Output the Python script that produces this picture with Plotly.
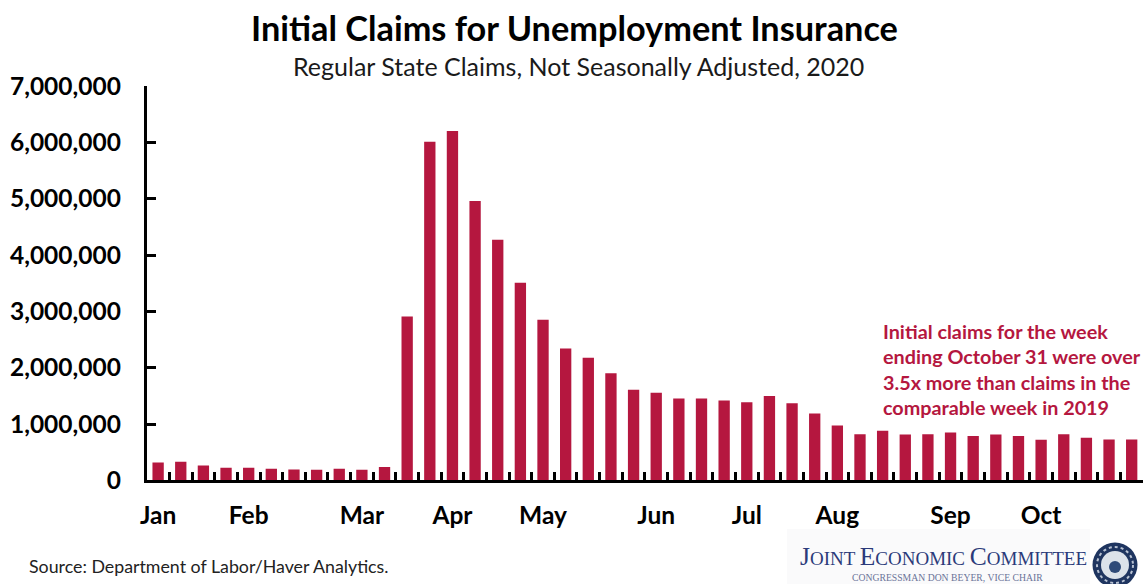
import pandas as pd
import plotly.graph_objects as go

TITLE = "Initial Claims for Unemployment Insurance"
SUBTITLE = "Regular State Claims, Not Seasonally Adjusted, 2020"
SOURCE = "Source: Department of Labor/Haver Analytics."
NOTE_LINES = [
    "Initial claims for the week",
    "ending October 31 were over",
    "3.5x more than claims in the",
    "comparable week in 2019",
]

# Weeks ending on a Saturday, first one on 4 January 2020
week_ending = pd.date_range("2020-01-04", periods=44, freq="7D")

# Regular state initial claims per week
claims = [
    319000, 331000, 266000, 225000, 225000, 207000, 195000, 189000, 207000, 189000, 236000,
    2910000, 6010000, 6200000, 4960000, 4270000, 3510000, 2850000, 2340000, 2175000, 1900000,
    1610000, 1555000, 1454000, 1454000, 1418000, 1389000, 1500000, 1370000, 1188000, 975000,
    820000, 880000, 815000, 820000, 850000, 786000, 815000, 790000, 720000, 820000, 756000,
    727000, 727000,
]

y_ticks = [0, 1000000, 2000000, 3000000, 4000000, 5000000, 6000000, 7000000]

W, H = 1143, 584
RED = "#B5173F"
NAVY = "#2B3A7A"


def px_x(x):
    return x / W


def px_y(y):
    return 1 - y / H


# One label per month, placed on the first week ending in that month
categories = [d.strftime("%Y-%m-%d") for d in week_ending]
labels = []
seen = set()
for d in week_ending:
    if d.month in seen:
        labels.append("")
    else:
        seen.add(d.month)
        labels.append(d.strftime("%b"))

fig = go.Figure(
    go.Bar(x=categories, y=claims, marker=dict(color=RED, line=dict(width=0)), width=0.5)
)

fig.update_layout(
    width=W,
    height=H,
    margin=dict(l=0, r=0, t=0, b=0, autoexpand=False),
    paper_bgcolor="white",
    plot_bgcolor="white",
    showlegend=False,
    font=dict(family="Lato", color="black"),
    xaxis=dict(
        type="category",
        domain=[px_x(146.8), 1],
        tickmode="array",
        tickvals=categories,
        ticktext=labels,
        tickson="boundaries",
        ticks="inside",
        ticklen=8,
        tickwidth=3,
        tickcolor="black",
        tickangle=0,
        tickfont=dict(family="Lato", size=24.5, weight=700),
        ticklabelstandoff=11,
        showline=True,
        linecolor="black",
        linewidth=3,
        showgrid=False,
        zeroline=False,
    ),
    yaxis=dict(
        domain=[px_y(480.4), px_y(86)],
        range=[0, 7000000],
        tickmode="array",
        tickvals=y_ticks,
        ticktext=[f"{v:,}" for v in y_ticks],
        ticks="inside",
        ticklen=9,
        tickwidth=3,
        tickcolor="black",
        tickfont=dict(family="Lato", size=24.5, weight=700),
        ticklabelstandoff=18,
        showline=True,
        linecolor="black",
        linewidth=3,
        showgrid=False,
        zeroline=False,
    ),
)


def text(x, y, s, size, color="black", weight=400, family="Lato", anchor="left"):
    fig.add_annotation(
        xref="paper", yref="paper", x=px_x(x), y=px_y(y), text=s, showarrow=False,
        xanchor=anchor, yanchor="middle", align="left",
        font=dict(family=family, size=size, color=color, weight=weight),
    )


def disc(cx, cy, radius, fill, outline=None, dash=None, outline_width=0):
    fig.add_shape(
        type="circle", xref="paper", yref="paper", layer="above",
        x0=px_x(cx - radius), x1=px_x(cx + radius),
        y0=px_y(cy + radius), y1=px_y(cy - radius),
        fillcolor=fill,
        line=dict(width=outline_width, color=outline, dash=dash),
    )


text(574.5, 27, TITLE, 34.3, weight=700, anchor="center")
text(578, 66, SUBTITLE, 25, color="#1a1a1a", anchor="center")
text(27, 566, SOURCE, 17.8, color="#222222")

for py, line in zip([331, 356, 382, 407], NOTE_LINES):
    text(881, py, line, 19.8, color=RED, weight=700)

# Committee masthead in small capitals with its round seal
fig.add_shape(
    type="rect", xref="paper", yref="paper", layer="below",
    x0=px_x(787), x1=px_x(1090), y0=0, y1=px_y(529),
    fillcolor="#FAFAFB", line=dict(width=0),
)
big = '<span style="font-size:25.5px">{}</span>'
masthead = (
    big.format("J") + "OINT " + big.format("E") + "CONOMIC " + big.format("C") + "OMMITTEE"
)
text(798, 556, masthead, 19, color=NAVY, family="Liberation Serif")
text(947, 577, "CONGRESSMAN DON BEYER, VICE CHAIR", 9.7, color="#6A7398",
     family="Liberation Serif", anchor="center")

disc(1115, 565, 22.5, "#1F3560")
disc(1115, 565, 18, "rgba(0,0,0,0)", outline="#B8C2D2", dash="dot", outline_width=2)
disc(1115, 565, 14, "#DCE2EA")
disc(1115, 567, 6, "#2F4A78")

fig.write_html("out.html")
